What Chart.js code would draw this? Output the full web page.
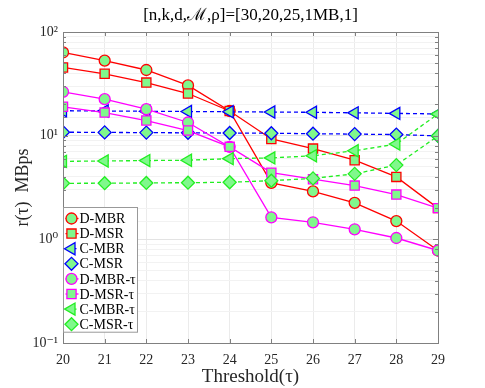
<!DOCTYPE html>
<html>
<head>
<meta charset="utf-8">
<script src="https://cdn.jsdelivr.net/npm/chart.js@4/dist/chart.umd.min.js"></script>
<style>
  html, body { margin: 0; padding: 0; background: #fff; }
</style>
</head>
<body>
<canvas id="myChart" width="485" height="388"></canvas>
<script>
// data
var thresholds = [20, 21, 22, 23, 24, 25, 26, 27, 28, 29];
var dMBR    = [63.5, 53, 43, 30.5, 17.3, 3.5, 2.9, 2.25, 1.5, 0.78];
var dMSR    = [45.5, 39.5, 32.5, 25.5, 17.3, 9.3, 7.5, 5.8, 4.0, 2.0];
var cMBR    = [17.4, 17.3, 17.2, 17.1, 17.0, 16.9, 16.8, 16.6, 16.4, 16.2];
var cMSR    = [10.8, 10.75, 10.7, 10.65, 10.6, 10.55, 10.45, 10.35, 10.25, 9.95];
var dMBRtau = [26.5, 22.5, 18, 13.4, 7.8, 1.63, 1.46, 1.25, 1.03, 0.78];
var dMSRtau = [19, 16.7, 14, 11.2, 7.8, 4.4, 3.8, 3.3, 2.7, 2.0];
var cMBRtau = [5.65, 5.7, 5.75, 5.8, 6.0, 6.1, 6.4, 7.15, 8.3, 16.2];
var cMSRtau = [3.47, 3.48, 3.5, 3.52, 3.55, 3.68, 3.87, 4.28, 5.2, 9.95];
var yTickExps = [-1, 0, 1, 2];
var yTickLabels = ['10\u207B\u00B9', '10\u2070', '10\u00B9', '10\u00B2'];

var serif = "'Liberation Serif', 'DejaVu Serif', serif";
var fillGreen = 'rgb(128,248,140)';

function series(label, values, color, style, rotation, radius, dashed, idx) {
    return {
        label: label,
        data: values.map(function(v, i) { return { x: thresholds[i], y: v }; }),
        borderColor: color,
        borderWidth: 1.3,
        borderDash: dashed ? [4, 3] : [],
        backgroundColor: fillGreen,
        pointBackgroundColor: fillGreen,
        pointBorderColor: color,
        pointBorderWidth: 1.3,
        pointStyle: style,
        pointRotation: rotation,
        pointRadius: radius,
        pointHoverRadius: radius,
        tension: 0,
        order: -idx
    };
}

function isMajor(v) {
    var l = Math.log10(v);
    return Math.abs(l - Math.round(l)) < 1e-6;
}

// frame round the plot with inward tick marks
var framePlugin = {
    id: 'frame',
    afterDatasetsDraw: function(chart) {
        var ctx = chart.ctx, a = chart.chartArea;
        var xs = chart.scales.x, ys = chart.scales.y;
        ctx.save();
        ctx.strokeStyle = '#808080';
        ctx.lineWidth = 1;
        ctx.beginPath();
        xs.ticks.forEach(function(t) {
            var px = Math.round(xs.getPixelForValue(t.value)) + 0.5;
            ctx.moveTo(px, a.bottom); ctx.lineTo(px, a.bottom - 4);
            ctx.moveTo(px, a.top); ctx.lineTo(px, a.top + 4);
        });
        ys.ticks.forEach(function(t) {
            var py = Math.round(ys.getPixelForValue(t.value)) + 0.5;
            var len = isMajor(t.value) ? 5 : 3;
            ctx.moveTo(a.left, py); ctx.lineTo(a.left + len, py);
            ctx.moveTo(a.right, py); ctx.lineTo(a.right - len, py);
        });
        ctx.stroke();
        ctx.strokeRect(Math.round(a.left) + 0.5, Math.round(a.top) + 0.5,
            Math.round(a.right - a.left), Math.round(a.bottom - a.top));
        ctx.restore();
    }
};

// legend box drawn inside the bottom left corner
var insideLegend = {
    id: 'insideLegend',
    afterDatasetsDraw: function(chart) {
        var ctx = chart.ctx, a = chart.chartArea;
        var sets = chart.data.datasets;
        var rowH = 15.1, w = 74;
        var h = 11 + rowH * (sets.length - 1) + 8;
        var x0 = Math.round(a.left) + 0.5;
        var y0 = Math.round(a.bottom - 11 - h) + 0.5;
        ctx.save();
        ctx.fillStyle = '#fff';
        ctx.fillRect(x0, y0, w, h);
        ctx.strokeStyle = '#999';
        ctx.lineWidth = 1;
        ctx.strokeRect(x0, y0, w, h);
        ctx.font = '14px ' + serif;
        ctx.textBaseline = 'middle';
        sets.forEach(function(ds, i) {
            var cy = y0 + 11 + rowH * i;
            var cx = x0 + 8;
            ctx.strokeStyle = ds.borderColor;
            ctx.lineWidth = ds.borderWidth;
            ctx.setLineDash(ds.borderDash);
            ctx.beginPath();
            ctx.moveTo(cx - 6, cy); ctx.lineTo(cx + 7, cy);
            ctx.stroke();
            ctx.setLineDash([]);
            ctx.fillStyle = ds.pointBackgroundColor;
            ctx.lineWidth = ds.pointBorderWidth;
            Chart.helpers.drawPoint(ctx, {
                pointStyle: ds.pointStyle,
                rotation: ds.pointRotation,
                radius: ds.pointRadius,
                borderWidth: ds.pointBorderWidth
            }, cx, cy);
            ctx.fillStyle = '#000';
            ctx.fillText(ds.label, x0 + 16, cy + 1);
        });
        ctx.restore();
    }
};

var ctx = document.getElementById('myChart').getContext('2d');
var myChart = new Chart(ctx, {
    type: 'line',
    data: {
        datasets: [
            series('D-MBR', dMBR, '#ff0000', 'circle', 0, 5.5, false, 0),
            series('D-MSR', dMSR, '#ff0000', 'rect', 0, 6.5, false, 1),
            series('C-MBR', cMBR, '#0000ff', 'triangle', -90, 7, true, 2),
            series('C-MSR', cMSR, '#0000ff', 'rectRot', 0, 6.5, true, 3),
            series('D-MBR-\u03C4', dMBRtau, '#ff00ff', 'circle', 0, 5.5, false, 4),
            series('D-MSR-\u03C4', dMSRtau, '#ff00ff', 'rect', 0, 6.5, false, 5),
            series('C-MBR-\u03C4', cMBRtau, '#22ee22', 'triangle', -90, 7, true, 6),
            series('C-MSR-\u03C4', cMSRtau, '#22ee22', 'rectRot', 0, 6.5, true, 7)
        ]
    },
    options: {
        responsive: false,
        animation: false,
        layout: { padding: { left: 0, right: 47, top: 0, bottom: 0 } },
        plugins: {
            legend: { display: false },
            tooltip: { enabled: false },
            title: {
                display: true,
                fullSize: false,
                text: '[n,k,d,\u2133,\u03C1]=[30,20,25,1MB,1]',
                color: '#000',
                font: { family: serif, size: 17, weight: 'normal', lineHeight: 1.2 },
                padding: { top: 5, bottom: 6.6 }
            }
        },
        scales: {
            x: {
                type: 'linear',
                min: 20,
                max: 29,
                afterFit: function(scale) { scale.height = 45; },
                ticks: {
                    stepSize: 1,
                    padding: 9,
                    color: '#262626',
                    font: { family: serif, size: 14 }
                },
                grid: { color: '#ebebeb', drawTicks: false },
                border: { display: false },
                title: {
                    display: true,
                    text: 'Threshold(\u03C4)',
                    color: '#262626',
                    font: { family: serif, size: 19, lineHeight: 1.2 },
                    padding: { top: 0, bottom: 0 }
                }
            },
            y: {
                type: 'logarithmic',
                min: 0.1,
                max: 100,
                afterFit: function(scale) { scale.width = 63; },
                ticks: {
                    autoSkip: false,
                    padding: 5,
                    color: '#262626',
                    font: { family: serif, size: 14 },
                    callback: function(value) {
                        if (!isMajor(value)) return '';
                        var e = Math.round(Math.log10(value));
                        var i = yTickExps.indexOf(e);
                        return i >= 0 ? yTickLabels[i] : '';
                    }
                },
                grid: {
                    drawTicks: false,
                    color: function(c) {
                        if (!c.tick) return '#ebebeb';
                        return isMajor(c.tick.value) ? '#e3e3e3' : '#f2f2f2';
                    }
                },
                border: { display: false },
                title: {
                    display: true,
                    text: 'r(\u03C4)  MBps',
                    color: '#262626',
                    font: { family: serif, size: 18, lineHeight: 1.2 },
                    padding: { top: 12, bottom: 0 }
                }
            }
        }
    },
    plugins: [framePlugin, insideLegend]
});
</script>
</body>
</html>
